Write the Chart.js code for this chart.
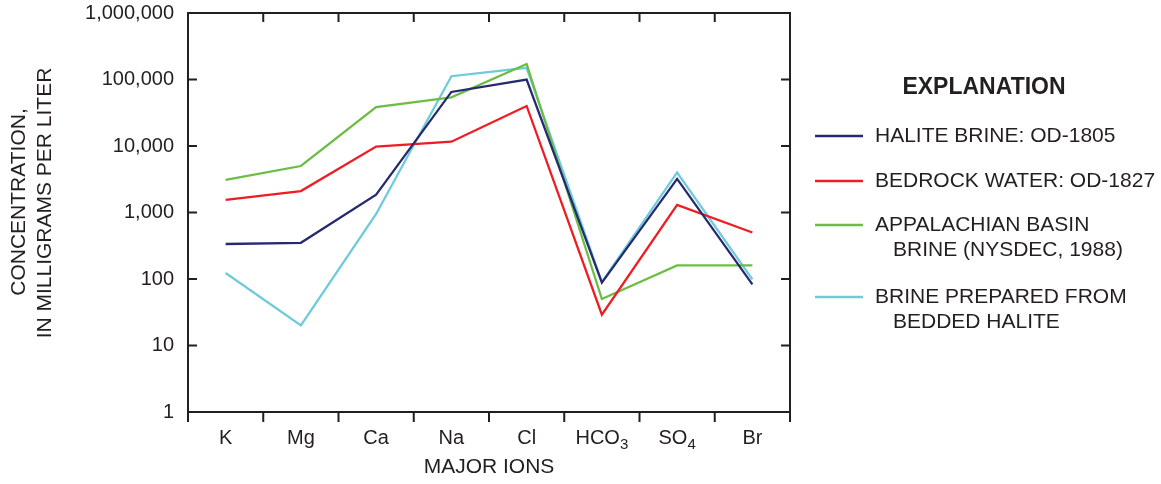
<!DOCTYPE html>
<html>
<head>
<meta charset="utf-8">
<script src="https://cdn.jsdelivr.net/npm/chart.js@4"></script>
<style>
html,body{margin:0;padding:0;background:#fff;}
</style>
</head>
<body>
<canvas id="ions" width="1161" height="484"></canvas>
<script>
const ions=['K','Mg','Ca','Na','Cl','HCO3','SO4','Br']
const subs={HCO3:['HCO','3'],SO4:['SO','4']}
const haliteBrine=[336,350,1850,65000,100000,88,3200,83]
const bedrockWater=[1550,2100,9800,11600,40000,29,1300,500]
const appalachianBrine=[3100,5000,38600,54000,171000,50,160,160]
const beddedHalite=[123,20,950,112000,150000,90,4000,99]
const yTicks=[1,10,100,1000,10000,100000,1000000]
const names=[['HALITE BRINE: OD-1805'],['BEDROCK WATER: OD-1827'],['APPALACHIAN BASIN','BRINE (NYSDEC, 1988)'],['BRINE PREPARED FROM','BEDDED HALITE']]
const colors=['#262b6f','#ee1d24','#6cbd45','#6fcbd9']

const ink='#231f20'
const fam='"Liberation Sans", Arial, sans-serif'
Chart.defaults.font.family=fam
Chart.defaults.color=ink

// frame, ticks, labels and the explanation box
const extras={
  id:'extras',
  afterDraw(chart){
    const ctx=chart.ctx
    const a=chart.chartArea
    const xs=chart.scales.x, ys=chart.scales.y
    ctx.save()
    ctx.strokeStyle=ink
    ctx.lineWidth=2
    ctx.strokeRect(a.left,a.top,a.right-a.left,a.bottom-a.top)
    ctx.beginPath()
    yTicks.forEach(v=>{
      const y=ys.getPixelForValue(v)
      ctx.moveTo(a.left,y);ctx.lineTo(a.left+9,y)
      ctx.moveTo(a.right,y);ctx.lineTo(a.right-9,y)
    })
    for(let i=0;i<=ions.length;i++){
      const x=xs.getPixelForValue(i-0.5)
      ctx.moveTo(x,a.bottom);ctx.lineTo(x,a.bottom+10)
      ctx.moveTo(x,a.top);ctx.lineTo(x,a.top+9)
    }
    ctx.stroke()

    ctx.fillStyle=ink
    ctx.textBaseline='middle'
    ctx.textAlign='left'
    ions.forEach((lab,i)=>{
      const x=xs.getPixelForValue(i)
      const y=438
      if(subs[lab]){
        ctx.font='20px '+fam
        const w1=ctx.measureText(subs[lab][0]).width
        ctx.font='15px '+fam
        const w2=ctx.measureText(subs[lab][1]).width
        const x0=x-(w1+w2)/2
        ctx.font='20px '+fam
        ctx.fillText(subs[lab][0],x0,y)
        ctx.font='15px '+fam
        ctx.fillText(subs[lab][1],x0+w1,y+7)
      }else{
        ctx.font='20px '+fam
        ctx.textAlign='center'
        ctx.fillText(lab,x,y)
        ctx.textAlign='left'
      }
    })
    ctx.font='21px '+fam
    ctx.textAlign='center'
    ctx.fillText('MAJOR IONS',(a.left+a.right)/2,467)

    ctx.save()
    ctx.translate(19,202)
    ctx.rotate(-Math.PI/2)
    ctx.fillText('CONCENTRATION,',0,0)
    ctx.restore()
    ctx.save()
    ctx.translate(45,203)
    ctx.rotate(-Math.PI/2)
    ctx.fillText('IN MILLIGRAMS PER LITER',0,0)
    ctx.restore()

    ctx.font='bold 23px '+fam
    ctx.fillText('EXPLANATION',984,88)
    const rows=[136,181,225,297]
    ctx.textAlign='left'
    ctx.font='21px '+fam
    names.forEach((n,i)=>{
      ctx.strokeStyle=colors[i]
      ctx.lineWidth=2.4
      ctx.beginPath()
      ctx.moveTo(815,rows[i]);ctx.lineTo(863,rows[i])
      ctx.stroke()
      n.forEach((t,j)=>ctx.fillText(t,j?893:875,rows[i]+j*25))
    })
    ctx.restore()
  }
}

const sets=[haliteBrine,bedrockWater,appalachianBrine,beddedHalite].map((d,i)=>({
  label:names[i].join(' '),
  data:d,
  borderColor:colors[i],
  borderWidth:2.3,
  pointRadius:0,
  tension:0,
  fill:false
}))

new Chart(document.getElementById('ions'),{
  type:'line',
  data:{labels:ions,datasets:sets},
  options:{
    responsive:false,
    animation:false,
    devicePixelRatio:1,
    layout:{padding:{top:13,right:371,left:0,bottom:0}},
    plugins:{legend:{display:false},tooltip:{enabled:false}},
    scales:{
      x:{
        type:'category',
        offset:true,
        grid:{display:false,drawTicks:false},
        border:{display:false},
        ticks:{display:false},
        afterFit(s){s.height=72;s.paddingLeft=0;s.paddingRight=0}
      },
      y:{
        type:'logarithmic',
        min:1,
        max:1000000,
        grid:{display:false,drawTicks:false},
        border:{display:false},
        afterBuildTicks(s){s.ticks=yTicks.map(v=>({value:v}))},
        ticks:{
          padding:14,
          font:{size:20},
          color:ink,
          callback:v=>v.toLocaleString('en-US')
        },
        afterFit(s){s.width=188;s.paddingTop=0;s.paddingBottom=0}
      }
    }
  },
  plugins:[extras]
})
</script>
</body>
</html>
